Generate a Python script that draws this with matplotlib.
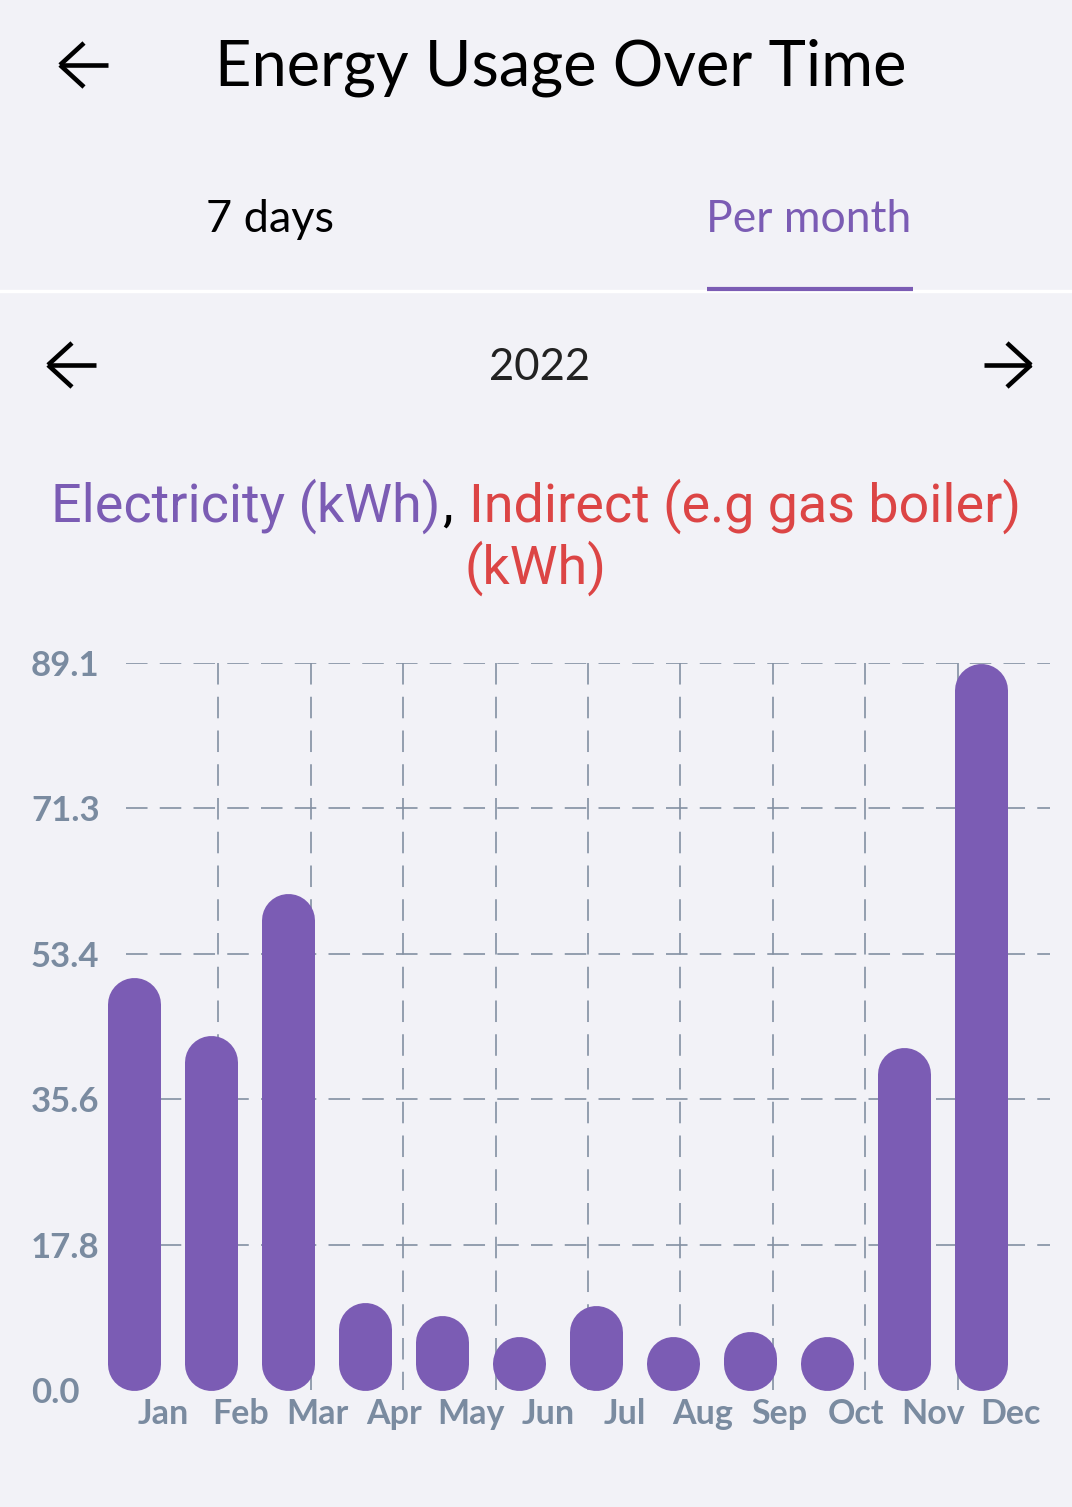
import numpy as np
import matplotlib.pyplot as plt
from matplotlib.lines import Line2D

# ---------------------------------------------------------------------------
# data
# ---------------------------------------------------------------------------
months = ['Jan', 'Feb', 'Mar', 'Apr', 'May', 'Jun',
          'Jul', 'Aug', 'Sep', 'Oct', 'Nov', 'Dec']
electricity = [50.6, 43.4, 60.9, 10.7, 9.1, 6.6,
               10.3, 6.6, 7.2, 6.6, 42.0, 89.1]
y_ticks = [0.0, 17.82, 35.64, 53.46, 71.28, 89.1]
y_labels = ['0.0', '17.8', '35.6', '53.4', '71.3', '89.1']
year = '2022'

# ---------------------------------------------------------------------------
# style
# ---------------------------------------------------------------------------
W, H, DPI = 1072, 1507, 100
BG = '#f2f2f7'
PURPLE = '#7b5cb4'
RED = '#dc4545'
SLATE = '#7a8ba0'
GRID = '#8390a2'
UI_FONT = ['Lato', 'DejaVu Sans']
LEG_FONT = ['Roboto', 'DejaVu Sans']

plt.rcParams['lines.scale_dashes'] = False

fig = plt.figure(figsize=(W / DPI, H / DPI), dpi=DPI, facecolor=BG)


def fx(x):
    return x / W


def fy(y):
    return 1 - y / H


def arrow(x0, x1, y, tip_left=True, lw=3.3):
    # simple line arrow like the app's icons
    tip = x0 if tip_left else x1
    arm = 24 if tip_left else -24
    for xs, ys in [((x0, x1), (y, y)),
                   ((tip, tip + arm), (y, y - 22)),
                   ((tip, tip + arm), (y, y + 22))]:
        fig.add_artist(Line2D([fx(v) for v in xs], [fy(v) for v in ys],
                              color='black', lw=lw, solid_capstyle='butt'))


# ---------------------------------------------------------------------------
# header
# ---------------------------------------------------------------------------
arrow(60, 108, 65)
fig.text(fx(561), fy(68), 'Energy Usage Over Time', ha='center', va='center',
         fontsize=45.5, family=UI_FONT, color='black')

fig.text(fx(270), fy(220), '7 days', ha='center', va='center',
         fontsize=32.5, family=UI_FONT, color='black')
fig.text(fx(809), fy(220), 'Per month', ha='center', va='center',
         fontsize=32, family=UI_FONT, color=PURPLE)
fig.add_artist(Line2D([0, 1], [fy(291), fy(291)], color='white', lw=2.4))
fig.add_artist(Line2D([fx(707), fx(913)], [fy(289), fy(289)],
                      color=PURPLE, lw=3.0, solid_capstyle='butt'))

arrow(48, 96, 365)
arrow(984, 1031, 365, tip_left=False)
fig.text(fx(540), fy(367), year, ha='center', va='center',
         fontsize=31.5, family=UI_FONT, color='#222222')

# legend title built from coloured runs, centred as one line
renderer = fig.canvas.get_renderer()


def centred_runs(y, runs, size):
    texts = [fig.text(0, fy(y), s, color=c, fontsize=size, family=LEG_FONT,
                      va='center', ha='left') for s, c, _ in runs]
    widths = [t.get_window_extent(renderer).width for t in texts]
    gaps = [g * size * DPI / 72 for _, _, g in runs]
    total = sum(widths) + sum(gaps[1:])
    x = W / 2 - total / 2
    for t, w, g in zip(texts, widths, gaps):
        x += g if t is not texts[0] else 0
        t.set_x(fx(x))
        x += w


centred_runs(506, [('Electricity (kWh)', PURPLE, 0), (',', 'black', 0.02),
                   ('Indirect (e.g gas boiler)', RED, 0.3)], 38.8)
fig.text(0.5, fy(568), '(kWh)', ha='center', va='center', color=RED,
         fontsize=38.8, family=LEG_FONT)

# ---------------------------------------------------------------------------
# chart
# ---------------------------------------------------------------------------
ax_l, ax_r, ax_t, ax_b = 126, 1050, 663, 1390
ax = fig.add_axes([fx(ax_l), fy(ax_b), (ax_r - ax_l) / W, (ax_b - ax_t) / H])
ax.set_facecolor('none')
for s in ax.spines.values():
    s.set_visible(False)

step_px = 77
first_px = 134
x = np.arange(len(months))
x0 = (ax_l - first_px) / step_px
ax.set_xlim(x0, x0 + (ax_r - ax_l) / step_px)
ax.set_ylim(0, y_ticks[-1])

# dashed grid
dash = (0, (15.5, 8.8))
for yv in y_ticks[1:]:
    ax.axhline(yv, color=GRID, lw=1.2, ls=dash, zorder=1)
vx = np.linspace(*ax.get_xlim(), 11)[1:-1]
ax.vlines(vx, y_ticks[-1], 0, color=GRID, lw=1.2, linestyles=[dash], zorder=1)

# pill shaped bars
bar_px = 53
r = (bar_px / 2) * y_ticks[-1] / (ax_b - ax_t)
vals = np.array(electricity)
ax.vlines(x, r, np.maximum(vals - r, r + 1e-3), color=PURPLE,
          lw=bar_px * 72 / DPI, capstyle='round', zorder=2, clip_on=False)

ax.set_yticks(y_ticks, y_labels)
ax.tick_params(axis='y', length=0, pad=(ax_l - 31) * 72 / DPI,
               labelsize=25, labelcolor=SLATE)
for lab in ax.get_yticklabels():
    lab.set_ha('left')
    lab.set_family(UI_FONT)
    lab.set_fontweight('bold')

ax.set_xticks(x + 0.38, months)
ax.tick_params(axis='x', length=0, pad=6, labelsize=24.5, labelcolor=SLATE)
for lab in ax.get_xticklabels():
    lab.set_family(UI_FONT)
    lab.set_fontweight('bold')

fig.savefig('out.png', dpi=DPI, facecolor=BG)
